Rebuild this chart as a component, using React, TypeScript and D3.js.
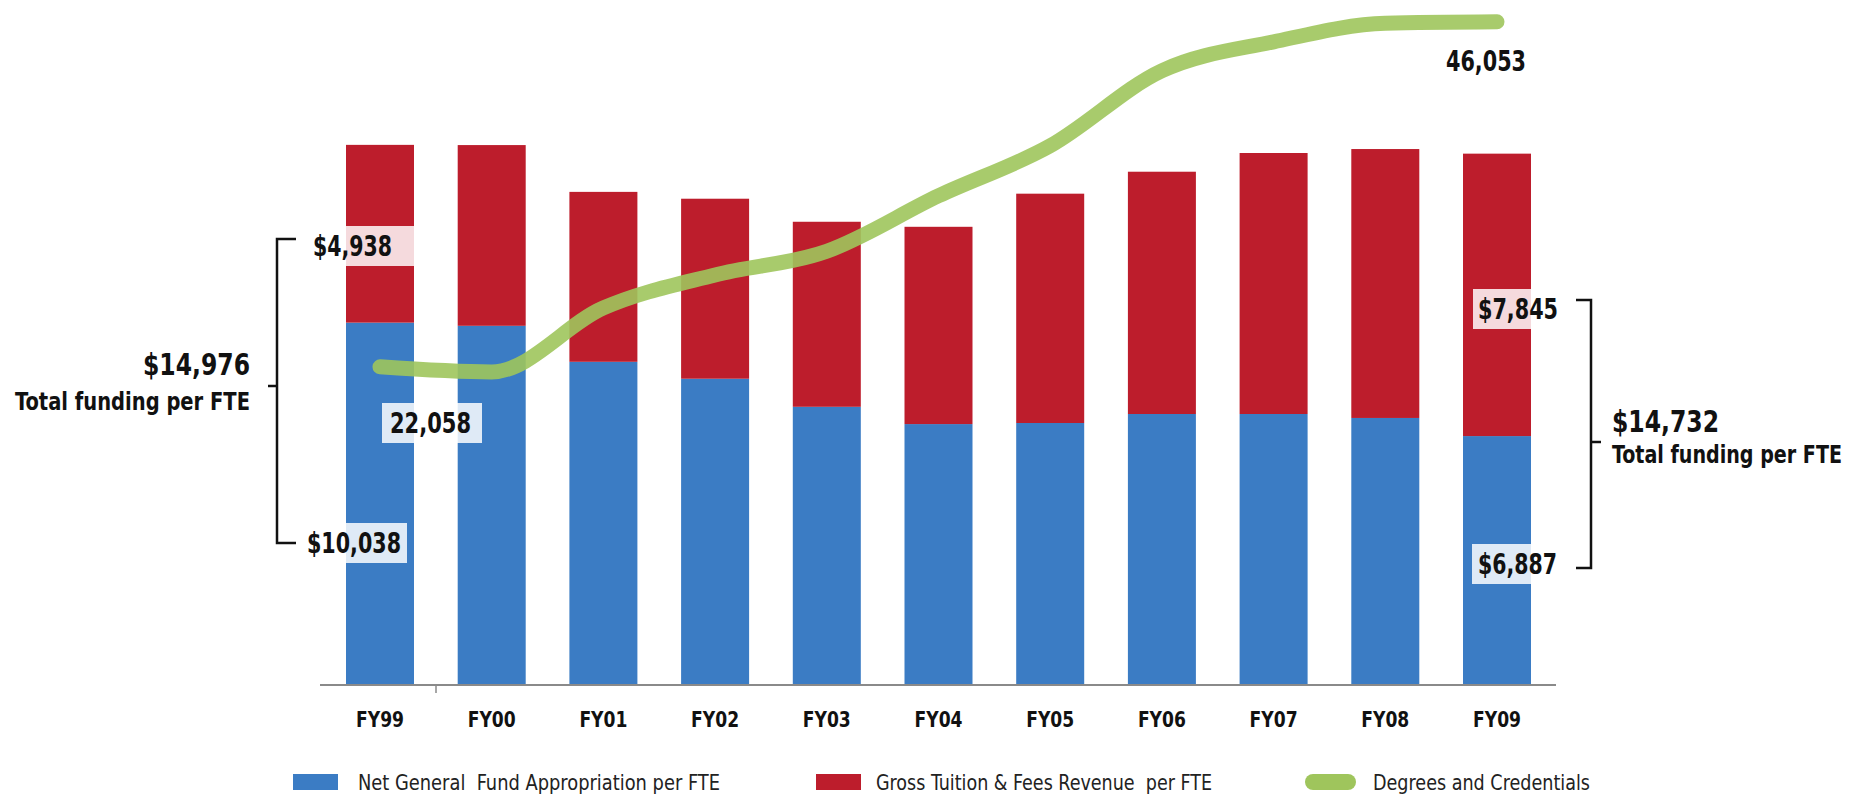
import * as d3 from "d3";
import React from "react";

// fiscal years on the x axis
const categories = ["FY99", "FY00", "FY01", "FY02", "FY03", "FY04", "FY05", "FY06", "FY07", "FY08", "FY09"];
// Net General Fund Appropriation per FTE
const appropriation = [10038, 9950, 8950, 8480, 7700, 7220, 7250, 7500, 7500, 7390, 6887];
// Gross Tuition & Fees Revenue per FTE
const tuition = [4938, 5020, 4720, 5000, 5140, 5480, 6370, 6730, 7250, 7470, 7845];
// Degrees and Credentials
const degrees = [22058, 21700, 26150, 28450, 30100, 33950, 37430, 42650, 44660, 45950, 46053];

const legendItems = [
  { label: "Net General  Fund Appropriation per FTE", color: "#3b7cc4" },
  { label: "Gross Tuition & Fees Revenue  per FTE", color: "#bd1d2c" },
  { label: "Degrees and Credentials", color: "#9fc55c" },
];

const W = 1853;
const H = 798;
const COND = "'DejaVu Sans Condensed', 'Liberation Sans Narrow', 'DejaVu Sans', sans-serif";
const fmt = d3.format(",");

export default function App() {
  const baseY = 684;
  const barW = 68;
  const x = d3.scalePoint<string>().domain(categories).range([380, 1497]);
  const y = d3.scaleLinear().domain([0, 19000]).range([baseY, 0]);
  const y2 = d3.scaleLinear().domain([0, 47570]).range([baseY, 0]);

  const rows = categories.map((c, i) => ({ cat: c, app: appropriation[i], tui: tuition[i] }));
  const stack = d3.stack<any>().keys(["app", "tui"])(rows);
  const colors = [legendItems[0].color, legendItems[1].color];

  const line = d3
    .line<number>()
    .x((_, i) => x(categories[i])!)
    .y((d) => y2(d))
    .curve(d3.curveMonotoneX);

  const first = 0;
  const last = categories.length - 1;
  const totalFirst = appropriation[first] + tuition[first];
  const totalLast = appropriation[last] + tuition[last];
  const xN = x(categories[last])!;

  // bold condensed text, squeezed to the width
  const label = (text: string, tx: number, ty: number, size: number, w: number, anchor = "start") => (
    <text
      x={tx}
      y={ty}
      fontSize={size}
      fontWeight="bold"
      fill="#111"
      textAnchor={anchor}
      textLength={w}
      lengthAdjust="spacingAndGlyphs"
      style={{ fontStretch: "condensed" }}
    >
      {text}
    </text>
  );

  // label boxes sit over bars
  const boxLabel = (text: string, bx: number, by: number, bw: number, tx: number, tw: number, key: string) => (
    <g key={key}>
      <rect x={bx} y={by - 20} width={bw} height={40} fill="#fff" opacity={0.84} />
      {label(text, tx, by + 10, 29, tw)}
    </g>
  );

  return (
    <svg
      width={W}
      height={H}
      style={{ position: "absolute", left: 0, top: 0, background: "#fff", fontFamily: COND }}
    >
      {/* stacked bars */}
      {stack.map((layer, li) => (
        <g key={li} fill={colors[li]}>
          {layer.map((d: any, i: number) => (
            <rect
              key={i}
              x={x(categories[i])! - barW / 2}
              y={y(d[1])}
              width={barW}
              height={y(d[0]) - y(d[1])}
            />
          ))}
        </g>
      ))}

      {/* x axis */}
      <line x1={320} x2={1556} y1={baseY + 1} y2={baseY + 1} stroke="#8a8a8a" strokeWidth={2} />
      <line x1={436} x2={436} y1={baseY + 1} y2={baseY + 9} stroke="#8a8a8a" strokeWidth={1.5} />
      {categories.map((c) => (
        <g key={c}>{label(c, x(c)!, 727, 21, 48, "middle")}</g>
      ))}

      {/* degrees line */}
      <path
        d={line(degrees)!}
        fill="none"
        stroke="#9fc55c"
        strokeOpacity={0.9}
        strokeWidth={15}
        strokeLinecap="round"
        strokeLinejoin="round"
      />

      {/* value labels */}
      {boxLabel("$" + fmt(tuition[first]), 308, 246, 106, 313, 79, "t0")}
      {boxLabel("$" + fmt(appropriation[first]), 303, 543, 104, 307, 94, "a0")}
      {boxLabel(fmt(degrees[first]), 382, 423, 100, 390, 81, "d0")}
      {boxLabel("$" + fmt(tuition[last]), 1473, 309, 90, 1478, 80, "tN")}
      {boxLabel("$" + fmt(appropriation[last]), 1472, 564, 90, 1478, 79, "aN")}
      {label(fmt(degrees[last]), xN - 51, 71, 29, 80)}

      {/* left bracket */}
      <g stroke="#111" strokeWidth={2.5} fill="none">
        <path d={`M296,239 H277 V543 H296`} />
        <path d={`M268,386 H277`} />
      </g>
      {label("$" + fmt(totalFirst), 250, 375, 31, 107, "end")}
      {label("Total funding per FTE", 250, 410, 25, 235, "end")}

      {/* right bracket */}
      <g stroke="#111" strokeWidth={2.5} fill="none">
        <path d={`M1576,300 H1591 V568 H1576`} />
        <path d={`M1591,442 H1601`} />
      </g>
      {label("$" + fmt(totalLast), 1612, 432, 31, 107)}
      {label("Total funding per FTE", 1612, 463, 25, 230)}

      {/* legend */}
      {legendItems.map((it, i) => {
        const lx = [293, 816, 1305][i];
        const tx = [358, 876, 1373][i];
        const tw = [362, 336, 217][i];
        return (
          <g key={it.label}>
            <rect
              x={lx}
              y={774}
              width={i === 2 ? 51 : 45}
              height={16}
              rx={i === 2 ? 8 : 0}
              fill={it.color}
            />
            <text
              x={tx}
              y={790}
              fontSize={21}
              fill="#222"
              textLength={tw}
              lengthAdjust="spacingAndGlyphs"
              style={{ whiteSpace: "pre", fontStretch: "condensed" }}
            >
              {it.label}
            </text>
          </g>
        );
      })}
    </svg>
  );
}
